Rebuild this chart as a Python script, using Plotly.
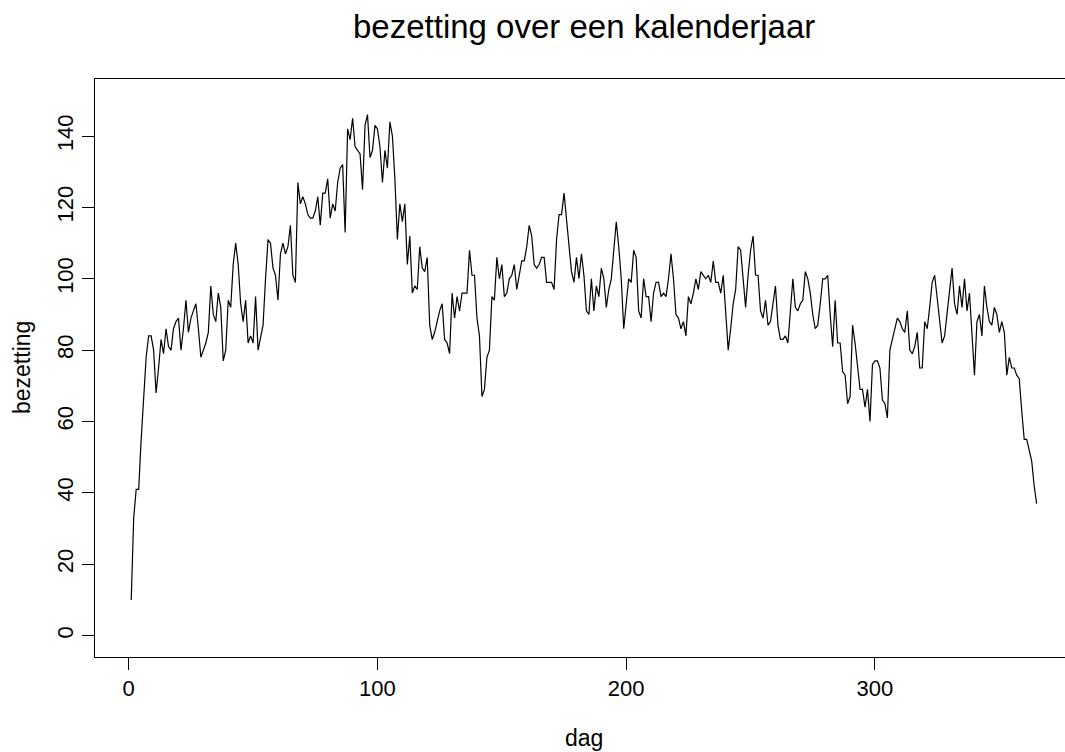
import plotly.graph_objects as go

bezetting = [
    10, 33, 41, 41, 55, 67, 78, 84, 84, 80,
    68, 75, 83, 79, 86, 81, 80, 86, 88, 89,
    80, 86, 94, 85, 89, 91, 93, 86, 78, 80,
    82, 85, 98, 90, 88, 96, 92, 77, 80, 94,
    92, 104, 110, 104, 93, 88, 94, 82, 84, 82,
    95, 80, 84, 87, 100, 111, 110, 103, 101, 94,
    107, 110, 107, 109, 115, 101, 99, 127, 121, 123,
    121, 118, 117, 117, 119, 123, 115, 124, 124, 128,
    117, 121, 119, 127, 131, 132, 113, 142, 139, 145,
    137, 136, 135, 125, 143, 146, 134, 136, 143, 142,
    137, 127, 136, 131, 144, 140, 128, 111, 121, 116,
    121, 104, 112, 96, 98, 97, 109, 103, 102, 106,
    87, 83, 85, 88, 91, 93, 83, 82, 79, 96,
    89, 95, 91, 96, 96, 96, 108, 101, 101, 89,
    84, 67, 69, 78, 80, 95, 94, 106, 100, 104,
    95, 96, 100, 101, 104, 97, 101, 105, 105, 109,
    115, 112, 104, 103, 104, 106, 106, 99, 99, 99,
    97, 111, 118, 118, 124, 117, 108, 102, 99, 106,
    100, 107, 101, 91, 90, 100, 91, 98, 95, 103,
    100, 92, 97, 100, 108, 116, 109, 100, 86, 93,
    100, 99, 108, 106, 91, 89, 100, 95, 95, 88,
    96, 99, 99, 95, 96, 95, 100, 107, 100, 90,
    89, 86, 88, 84, 95, 93, 96, 100, 97, 102,
    101, 100, 101, 99, 105, 99, 99, 96, 101, 90,
    80, 86, 93, 97, 109, 108, 100, 92, 101, 108,
    112, 101, 101, 91, 89, 94, 87, 88, 93, 98,
    87, 83, 83, 84, 82, 92, 100, 92, 91, 93,
    94, 102, 100, 96, 90, 86, 87, 93, 100, 100,
    101, 90, 81, 94, 82, 82, 74, 73, 65, 67,
    87, 82, 76, 69, 69, 64, 69, 60, 76, 77,
    77, 75, 66, 65, 61, 80, 83, 86, 89, 88,
    86, 85, 91, 80, 79, 81, 85, 75, 75, 88,
    86, 92, 99, 101, 95, 89, 82, 84, 91, 98,
    103, 93, 90, 98, 92, 100, 91, 96, 84, 73,
    88, 90, 84, 98, 92, 88, 87, 92, 90, 85,
    88, 85, 73, 78, 75, 75, 73, 72, 63, 55,
    55, 52, 49, 42, 37,
]
dag = list(range(1, len(bezetting) + 1))

x_ticks = [0, 100, 200, 300]
y_ticks = [0, 20, 40, 60, 80, 100, 120, 140]

FONT = "Liberation Sans, Arial, sans-serif"

fig = go.Figure()
fig.add_trace(go.Scatter(
    x=dag, y=bezetting, mode="lines",
    line=dict(color="black", width=1.2),
    hoverinfo="skip", showlegend=False,
))

fig.update_layout(
    width=1065, height=752,
    margin=dict(l=95, r=0, t=79, b=95),
    paper_bgcolor="white", plot_bgcolor="white",
    font=dict(family=FONT, color="black"),
    showlegend=False,
    annotations=[
        dict(text="bezetting over een kalenderjaar", xref="paper", yref="paper",
             x=(583.5 - 95) / 970, y=1 + (79 - 26) / 578, showarrow=False,
             xanchor="center", yanchor="middle", font=dict(size=33, family=FONT)),
        dict(text="dag", xref="paper", yref="paper",
             x=(583.5 - 95) / 970, y=-(738 - 657) / 578, showarrow=False,
             xanchor="center", yanchor="middle", font=dict(size=23, family=FONT)),
        dict(text="bezetting", xref="paper", yref="paper",
             x=-(95 - 22) / 970, y=0.5, showarrow=False, textangle=-90,
             xanchor="center", yanchor="middle", font=dict(size=23, family=FONT)),
    ],
)

fig.update_xaxes(
    range=[-13.56, 376.4],
    tickmode="array", tickvals=x_ticks, ticktext=[str(v) for v in x_ticks],
    ticks="outside", ticklen=12, tickwidth=1, tickcolor="black",
    showline=True, linecolor="black", linewidth=1, mirror=True,
    showgrid=False, zeroline=False,
    tickfont=dict(size=22, family=FONT, color="black"),
)
fig.update_yaxes(
    range=[-6, 156],
    tickmode="array", tickvals=y_ticks, ticktext=[str(v) for v in y_ticks],
    ticks="outside", ticklen=12, tickwidth=1, tickcolor="black",
    showline=True, linecolor="black", linewidth=1,
    showgrid=False, zeroline=False, tickangle=-90,
    tickfont=dict(size=22, family=FONT, color="black"),
)

fig.write_html("out.html")
